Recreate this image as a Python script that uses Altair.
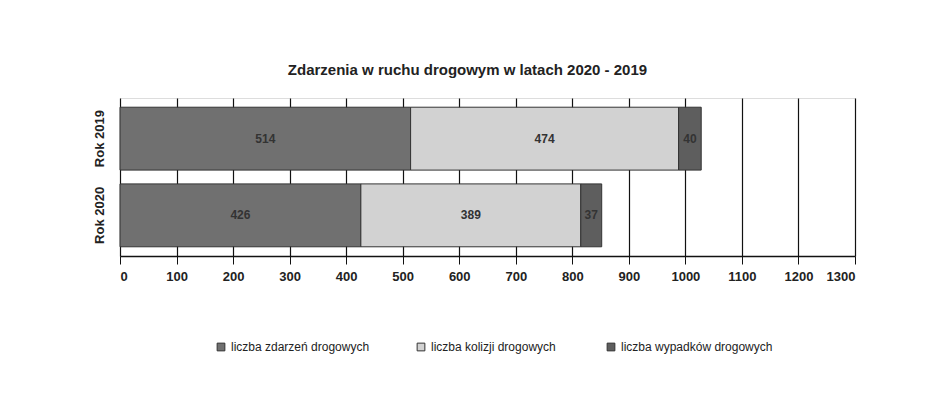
import altair as alt
import pandas as pd

years = ["Rok 2019", "Rok 2020"]
series = ["liczba zdarzeń drogowych", "liczba kolizji  drogowych", "liczba wypadków  drogowych"]
values_2019 = [514, 474, 40]
values_2020 = [426, 389, 37]
x_ticks = list(range(0, 1301, 100))
colors = ["#707070", "#d2d2d2", "#5e5e5e"]

rows = []
for yr, vals in zip(years, [values_2019, values_2020]):
    for i, (s, v) in enumerate(zip(series, vals)):
        rows.append({"rok": yr, "seria": s, "wartosc": v, "kolejnosc": i})
df = pd.DataFrame(rows)

x_enc = alt.X("wartosc:Q", stack="zero",
              scale=alt.Scale(domain=[0, 1300], nice=False),
              axis=alt.Axis(values=x_ticks, format="d", title=None, grid=True, gridColor="#111",
                            gridWidth=1.2, domainColor="#111", domainWidth=1.5,
                            tickColor="#111", tickSize=8, labelFontSize=13,
                            labelFontWeight="bold", labelColor="#222", labelPadding=6,
                            labelFont="Liberation Sans"))
y_enc = alt.Y("rok:N", sort=years,
              scale=alt.Scale(paddingInner=0.18, paddingOuter=0.12),
              axis=alt.Axis(title=None, domain=False, ticks=False, labelAngle=270,
                            labelAlign="center", labelBaseline="bottom",
                            labelFontSize=13, labelFontWeight="bold", labelColor="#222",
                            labelPadding=14, labelFont="Liberation Sans"))

bars = alt.Chart(df).mark_bar(stroke="#333", strokeWidth=1).encode(
    x=x_enc,
    y=y_enc,
    color=alt.Color("seria:N", sort=series,
                    scale=alt.Scale(domain=series, range=colors),
                    legend=alt.Legend(title=None, orient="none", legendX=95, legendY=243,
                                      direction="horizontal", columns=3, columnPadding=45,
                                      symbolType="square", symbolSize=60,
                                      symbolStrokeColor="#333", symbolStrokeWidth=1,
                                      labelFontSize=12, labelColor="#222",
                                      labelFont="Liberation Sans")),
    order=alt.Order("kolejnosc:Q"),
)

labels = alt.Chart(df).mark_text(fontSize=12, fontWeight="bold", color="#333",
                                 font="Liberation Sans").encode(
    x=alt.X("mid:Q", scale=alt.Scale(domain=[0, 1300], nice=False)),
    y=alt.Y("rok:N", sort=years),
    text="wartosc:Q",
).transform_window(
    cum="sum(wartosc)", groupby=["rok"], sort=[alt.SortField("kolejnosc")]
).transform_calculate(mid="datum.cum - datum.wartosc / 2")

chart = (bars + labels).properties(
    width=735, height=158,
    autosize=alt.AutoSizeParams(type="none"),
    padding={"left": 112, "top": 90, "right": 60, "bottom": 140},
    title=alt.TitleParams("Zdarzenia w ruchu drogowym w latach 2020 - 2019",
                          fontSize=15, fontWeight="bold", color="#222",
                          font="Liberation Sans", offset=20, dx=-20),
).configure_view(stroke=None).configure(background="white")

chart.save("out.html", embed_options={"renderer": "svg", "actions": False})
